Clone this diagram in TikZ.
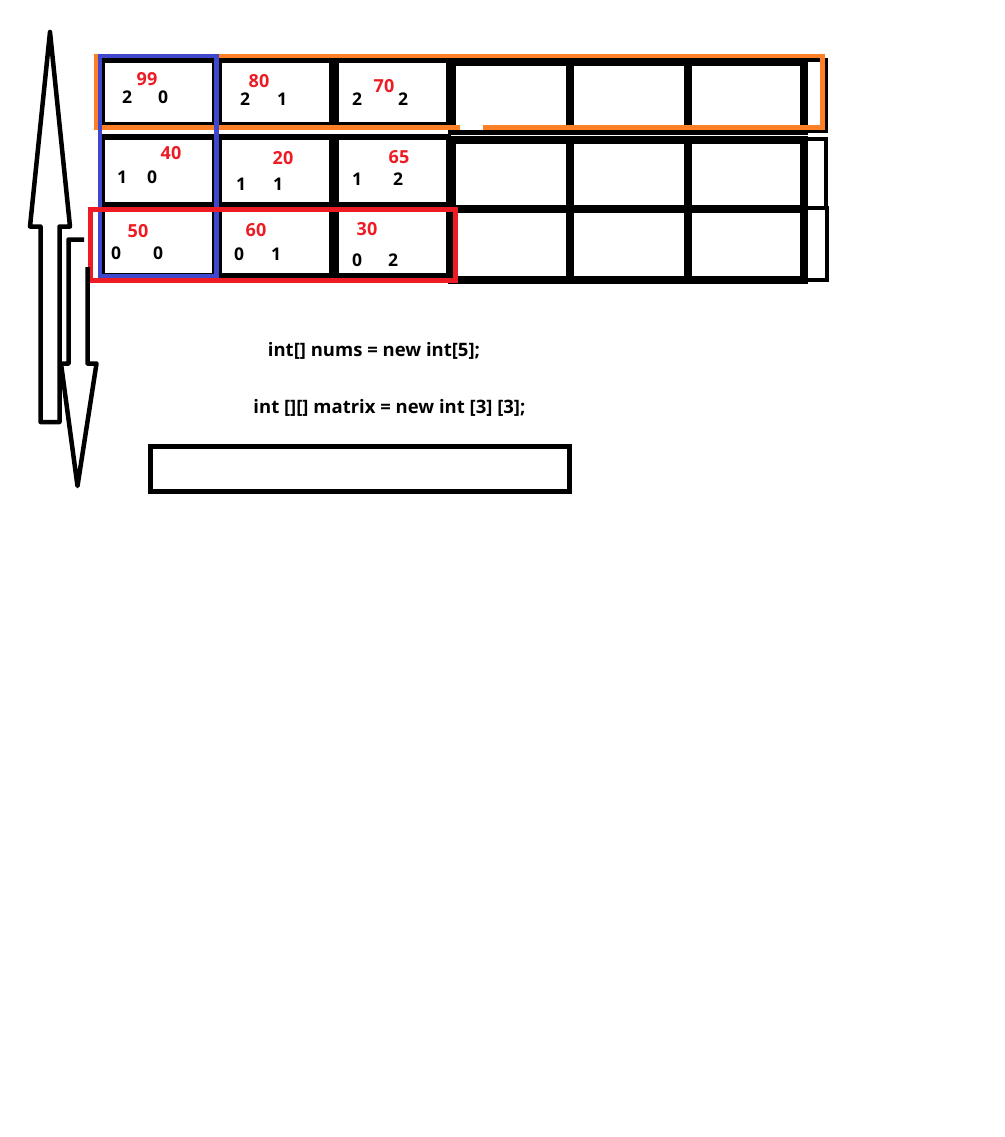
\documentclass[tikz,border=0pt]{standalone}
\usepackage{fontspec}
\setmainfont{Open Sans}
\definecolor{paintorange}{HTML}{FF7F27}
\definecolor{paintred}{HTML}{ED1C24}
\definecolor{paintblue}{HTML}{3F48CC}
\begin{document}
\begin{tikzpicture}[x=1pt,y=-1pt,
  cellbox/.style={draw=black,line width=5pt,line join=miter},
  bigcell/.style={draw=black,line width=8pt,line join=miter},
  sidebox/.style={draw=black,line width=4pt},
  arrowline/.style={draw=black,line width=4.5pt,line join=round},
  rednum/.style={text=paintred,font=\fontsize{18}{18}\selectfont\bfseries,inner sep=0pt},
  blacknum/.style={text=black,font=\fontsize{17.5}{18}\selectfont\bfseries,inner sep=0pt},
  codetext/.style={text=black,font=\fontsize{18.5}{19}\selectfont\bfseries,inner sep=0pt,anchor=base}]
\fill[white,use as bounding box] (0,0) rectangle (1004,1137);

% right-hand extra pieces
\draw[sidebox] (806,60) rectangle (826,131);
\draw[sidebox] (806,139) rectangle (826,208);
\draw[sidebox] (806,208) rectangle (827,280);

% columns 4-6
\foreach \xa/\xb in {452/570,570/688,688/804}{
  \draw[bigcell] (\xa,62.5) rectangle (\xb,131);
  \draw[bigcell] (\xa,140) rectangle (\xb,209);
  \draw[bigcell] (\xa,209) rectangle (\xb,280);
}
% columns 1-3
\foreach \xa/\xb in {102/214,219/331,336/448.5}{
  \draw[cellbox] (\xa,61) rectangle (\xb,124.5);
  \draw[cellbox] (\xa,137) rectangle (\xb,204.5);
  \draw[cellbox] (\xa,209.5) rectangle (\xb,275);
}

% coloured frames
\draw[paintorange,line width=4.5pt] (96,56) rectangle (822.5,127.5);
\fill[white] (460,125) rectangle (483,130);
\draw[paintblue,line width=4.5pt] (100,56) rectangle (216.5,276);
\draw[paintred,line width=5pt] (90.5,209) rectangle (455.5,280.5);

% numbers row 1
\node[rednum] (r99) at (147,79) {99};
\node[blacknum] (a1) at (127,97) {2};
\node[blacknum] (a2) at (163,97) {0};
\node[rednum] (r80) at (259,81) {80};
\node[blacknum] (b1) at (245,99) {2};
\node[blacknum] (b2) at (282,99) {1};
\node[rednum] (r70) at (384,86) {70};
\node[blacknum] (c1) at (357,99) {2};
\node[blacknum] (c2) at (403,99) {2};
% row 2
\node[rednum] (r40) at (171,153) {40};
\node[blacknum] (d1) at (122,177) {1};
\node[blacknum] (d2) at (152,177) {0};
\node[rednum] (r20) at (283,158) {20};
\node[blacknum] (e1) at (241,184) {1};
\node[blacknum] (e2) at (278,184) {1};
\node[rednum] (r65) at (399,157) {65};
\node[blacknum] (f1) at (357,179) {1};
\node[blacknum] (f2) at (398,179) {2};
% row 3
\node[rednum] (r50) at (138,231) {50};
\node[blacknum] (g1) at (116,253) {0};
\node[blacknum] (g2) at (158,253) {0};
\node[rednum] (r60) at (256,230) {60};
\node[blacknum] (h1) at (239,254) {0};
\node[blacknum] (h2) at (276,254) {1};
\node[rednum] (r30) at (367,229) {30};
\node[blacknum] (i1) at (357,260) {0};
\node[blacknum] (i2) at (393,260) {2};

% code lines
\node[codetext] (code1) at (374,356) {int[] nums = new int[5];};
\node[codetext] (code2) at (389.5,413) {int [][] matrix = new int [3] [3];};

% empty box
\draw[cellbox] (150.5,446.5) rectangle (569,491.5);

% up arrow
\draw[arrowline] (40.5,422) -- (40.5,226.5) -- (30,226.5) -- (50,32) -- (70,226.5) -- (59.5,226.5) -- (59.5,422) -- cycle;
% down arrow
\draw[arrowline] (84,239.5) -- (68.5,239.5) -- (68.5,363.5) -- (61,363.5) -- (77.5,486) -- (96.5,363.5) -- (87.5,363.5) -- (87.5,267);
\end{tikzpicture}
\end{document}
